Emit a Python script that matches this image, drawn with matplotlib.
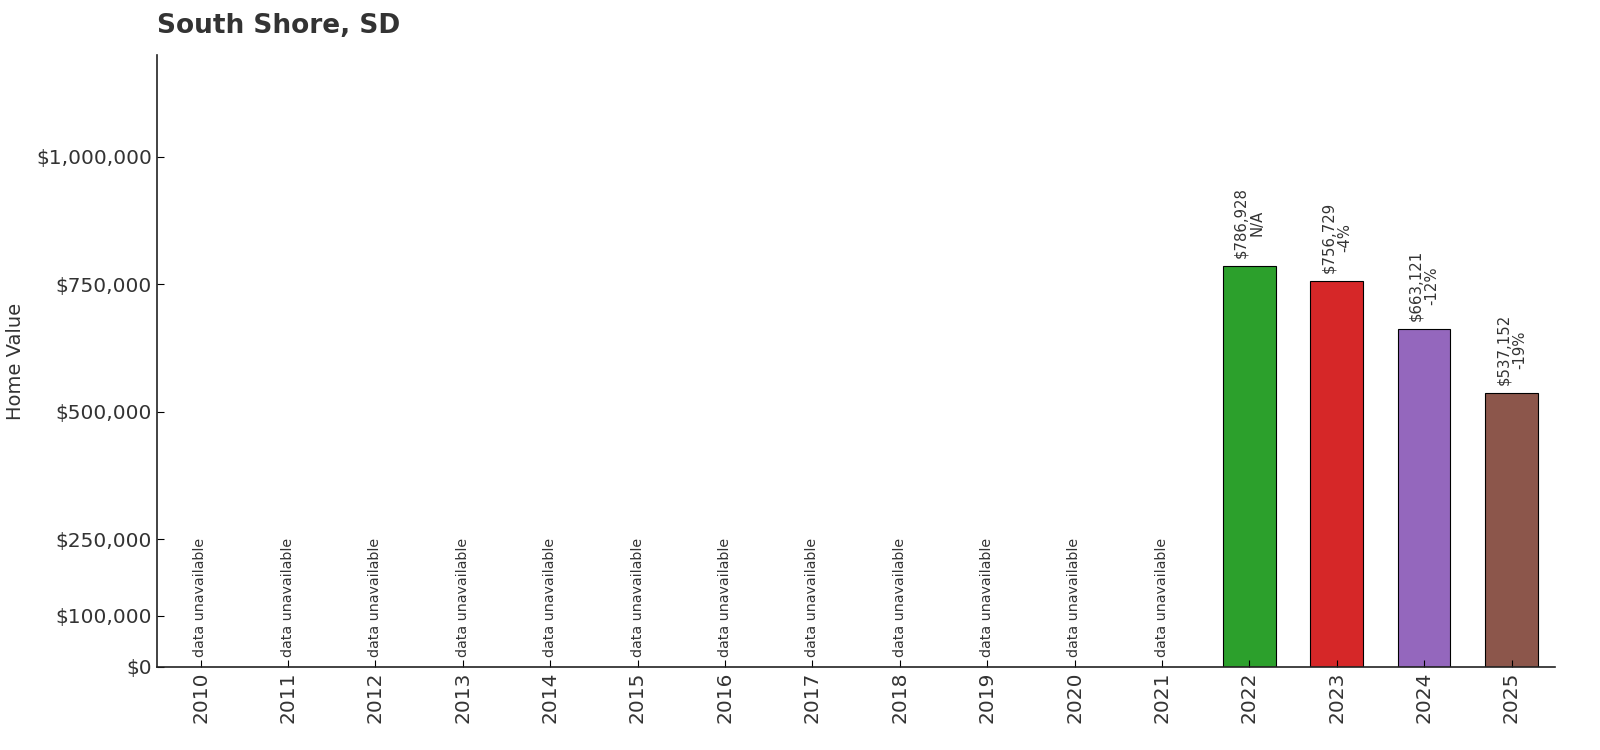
import matplotlib
matplotlib.use("Agg")
import matplotlib.pyplot as plt
from matplotlib.ticker import FuncFormatter

years = list(range(2010, 2026))
values = [None]*12 + [786928, 756729, 663121, 537152]
changes = [None]*12 + ["N/A", "-4%", "-12%", "-19%"]
yticks = [0, 100000, 250000, 500000, 750000, 1000000]
title = "South Shore, SD"
ylabel = "Home Value"

palette = plt.get_cmap("tab10").colors
txt = "#333333"

fig = plt.figure(figsize=(16, 7.5), dpi=100)
ax = fig.add_axes([0.098, 0.1107, 0.874, 0.816])

for i, (yr, v) in enumerate(zip(years, values)):
    if v is None:
        ax.text(i, 20000, "data unavailable", rotation=90, ha="center", va="bottom",
                fontsize=10.3, color=txt)
    else:
        ax.bar(i, v, width=0.6, color=palette[i % 10], edgecolor="black", linewidth=0.8)
        ax.text(i, v + 15000, f"${v:,.0f}\n{changes[i]}", rotation=90, ha="center",
                va="bottom", fontsize=10.7, color=txt, linespacing=1.1)

ax.set_xlim(-0.5, 15.5)
ax.set_ylim(0, 1200000)
ax.set_xticks(range(len(years)))
ax.set_xticklabels([str(y) for y in years], rotation=90, fontsize=14.5, color=txt)
ax.set_yticks(yticks)
ax.yaxis.set_major_formatter(FuncFormatter(lambda x, p: f"${x:,.0f}"))
ax.tick_params(axis="y", labelsize=14.5, labelcolor=txt, direction="in", length=5)
ax.tick_params(axis="x", direction="in", length=5)
for s in ["top", "right"]:
    ax.spines[s].set_visible(False)
for s in ["left", "bottom"]:
    ax.spines[s].set_color("#222222")
    ax.spines[s].set_linewidth(1.2)
ax.set_ylabel(ylabel, fontsize=14, color=txt, labelpad=8)
ax.set_title(title, loc="left", fontsize=19, fontweight="bold", color=txt, pad=16)

fig.savefig("out.png", dpi=100)
